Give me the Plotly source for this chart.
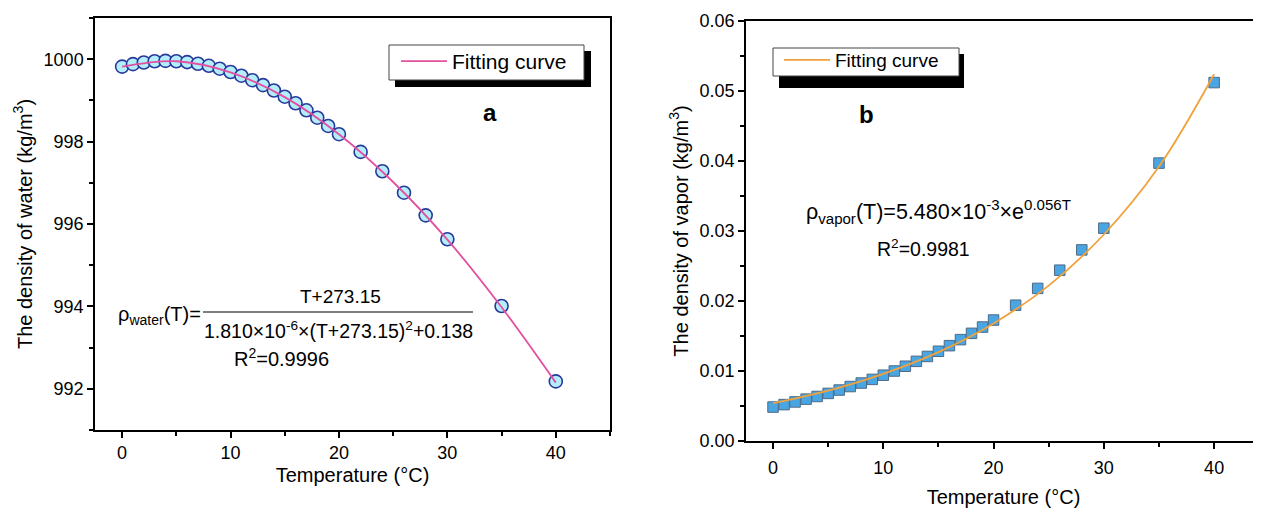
import plotly.graph_objects as go

W, H = 1261, 508
OFF = 8  # page body margin of the html page
FW, FH = W - OFF, H - OFF
FONT = "Liberation Sans, Arial, sans-serif"

# ---------------- data ----------------
temp = [0, 1, 2, 3, 4, 5, 6, 7, 8, 9, 10, 11, 12, 13, 14, 15, 16, 17, 18, 19, 20,
        22, 24, 26, 28, 30, 35, 40]
water_density = [999.82, 999.88, 999.92, 999.95, 999.96, 999.95, 999.93, 999.89, 999.84,
                 999.77, 999.69, 999.60, 999.49, 999.37, 999.24, 999.09, 998.93, 998.76,
                 998.58, 998.38, 998.18, 997.75, 997.28, 996.76, 996.21, 995.63, 994.01, 992.18]
vapor_density = [0.00485, 0.00520, 0.00558, 0.00598, 0.00636, 0.00680, 0.00728, 0.00778,
                 0.00828, 0.00880, 0.00940, 0.01000, 0.01068, 0.01138, 0.01208, 0.01282,
                 0.01362, 0.01448, 0.01538, 0.01628, 0.01728, 0.01940, 0.02180, 0.02440,
                 0.02730, 0.03040, 0.03970, 0.05120]

fit_temp = [0, 5, 10, 15, 20, 25, 30, 35, 40]
water_fit = [999.82, 999.95, 999.68, 999.08, 998.18, 997.02, 995.62, 993.98, 992.15]
vapor_fit = [0.0054, 0.0072, 0.0096, 0.0127, 0.0168, 0.0222, 0.0295, 0.0392, 0.0524]

xa_ticks = [0, 10, 20, 30, 40]
ya_ticks = [992, 994, 996, 998, 1000]
yb_ticks = [0.00, 0.01, 0.02, 0.03, 0.04, 0.05, 0.06]
yb_ticktext = ["0.00", "0.01", "0.02", "0.03", "0.04", "0.05", "0.06"]


def px(x):
    return (x - OFF) / FW


def py(y):
    return 1 - (y - OFF) / FH


fig = go.Figure()

# panel a
fig.add_trace(go.Scatter(x=temp, y=water_density, mode="markers", showlegend=False,
                         marker=dict(symbol="circle", size=13, color="#b4eefb",
                                     line=dict(color="#27399a", width=1.6)),
                         xaxis="x", yaxis="y"))
fig.add_trace(go.Scatter(x=fit_temp, y=water_fit, mode="lines", name="Fitting curve",
                         line=dict(color="#e2509f", width=1.8, shape="spline"),
                         xaxis="x", yaxis="y", legend="legend"))
# panel b
fig.add_trace(go.Scatter(x=temp, y=vapor_density, mode="markers", showlegend=False,
                         marker=dict(symbol="square", size=10.5, color="#4aa6e2",
                                     line=dict(color="#4d6a86", width=1)),
                         xaxis="x2", yaxis="y2"))
fig.add_trace(go.Scatter(x=fit_temp, y=vapor_fit, mode="lines", name="Fitting curve",
                         line=dict(color="#f0a23c", width=1.8, shape="spline"),
                         xaxis="x2", yaxis="y2", legend="legend2"))

axis_common = dict(showline=True, linecolor="black", linewidth=1.5, ticks="outside",
                   ticklen=6, tickwidth=1.5, tickcolor="black", showgrid=False,
                   zeroline=False, automargin=False,
                   tickfont=dict(family=FONT, size=18, color="black"))
minor_common = dict(ticks="outside", ticklen=4, tickwidth=1.5, tickcolor="black")

fig.update_layout(
    width=FW, height=FH, margin=dict(l=0, r=0, t=0, b=0),
    paper_bgcolor="white", plot_bgcolor="white",
    font=dict(family=FONT, color="black"),
    xaxis=dict(**axis_common, domain=[px(95), px(610)], range=[-2.5, 45],
               tickvals=xa_ticks, mirror=True,
               minor=dict(**minor_common, dtick=5, tick0=0),
               title=dict(text="Temperature (°C)", font=dict(size=20), standoff=6)),
    yaxis=dict(**axis_common, domain=[py(430), py(18)], range=[991, 1001],
               tickvals=ya_ticks, mirror=True,
               minor=dict(**minor_common, dtick=1, tick0=991),
               title=dict(text="The density of water (kg/m<sup>3</sup>)", font=dict(size=20), standoff=6)),
    xaxis2=dict(**axis_common, domain=[px(746), 1.0], range=[-2.45, 44.25],
                tickvals=xa_ticks, mirror=True, anchor="y2", ticklabelstandoff=4,
                minor=dict(**minor_common, dtick=5, tick0=0),
                title=dict(text="Temperature (°C)", font=dict(size=20), standoff=13)),
    yaxis2=dict(**axis_common, domain=[py(441), py(21)], range=[0, 0.06],
                tickvals=yb_ticks, ticktext=yb_ticktext, mirror=False, anchor="x2",
                minor=dict(**minor_common, dtick=0.005, tick0=0),
                title=dict(text="The density of vapor (kg/m<sup>3</sup>)", font=dict(size=20), standoff=6)),
    legend=dict(x=px(396), y=py(41), xanchor="left", yanchor="top", bgcolor="rgba(0,0,0,0)",
                borderwidth=0, itemwidth=46,
                font=dict(family=FONT, size=21, color="black")),
    legend2=dict(x=px(779), y=py(41), xanchor="left", yanchor="top", bgcolor="rgba(0,0,0,0)",
                 borderwidth=0, itemwidth=46,
                 font=dict(family=FONT, size=19, color="black")),
)

# legend frames with drop shadows
fig.add_shape(type="rect", xref="paper", yref="paper", x0=px(395), x1=px(591), y0=py(87), y1=py(51),
              fillcolor="black", line=dict(width=0), layer="above")
fig.add_shape(type="rect", xref="paper", yref="paper", x0=px(389), x1=px(584), y0=py(80), y1=py(45),
              fillcolor="white", line=dict(color="#444", width=1), layer="above")
fig.add_shape(type="rect", xref="paper", yref="paper", x0=px(779), x1=px(964), y0=py(88), y1=py(54),
              fillcolor="black", line=dict(width=0), layer="above")
fig.add_shape(type="rect", xref="paper", yref="paper", x0=px(773), x1=px(959), y0=py(76), y1=py(48),
              fillcolor="white", line=dict(color="#444", width=1), layer="above")

# fraction line in equation a
fig.add_shape(type="line", xref="paper", yref="paper", x0=px(203), x1=px(473), y0=py(312), y1=py(312),
              line=dict(color="black", width=1.2))

ann = [
    dict(x=px(490), y=py(113), text="<b>a</b>", size=24, xanchor="center"),
    dict(x=px(866), y=py(115), text="<b>b</b>", size=24, xanchor="center"),
    dict(x=px(116), y=py(315), text="ρ<sub>water</sub>(T)=", size=20, xanchor="left"),
    dict(x=px(341), y=py(296), text="T+273.15", size=19, xanchor="center"),
    dict(x=px(338), y=py(330), text="1.810×10<sup>-6</sup>×(T+273.15)<sup>2</sup>+0.138", size=19.5, xanchor="center"),
    dict(x=px(281), y=py(357), text="R<sup>2</sup>=0.9996", size=20, xanchor="center"),
    dict(x=px(804), y=py(211), text="ρ<sub>vapor</sub>(T)=5.480×10<sup>-3</sup>×e<sup>0.056T</sup>", size=21.5, xanchor="left"),
    dict(x=px(923), y=py(248), text="R<sup>2</sup>=0.9981", size=19.5, xanchor="center"),
]
for a in ann:
    fig.add_annotation(x=a["x"], y=a["y"], xref="paper", yref="paper", text=a["text"],
                       showarrow=False, xanchor=a["xanchor"], yanchor="middle",
                       font=dict(family=FONT, size=a["size"], color="black"))

fig.write_html("out.html")
